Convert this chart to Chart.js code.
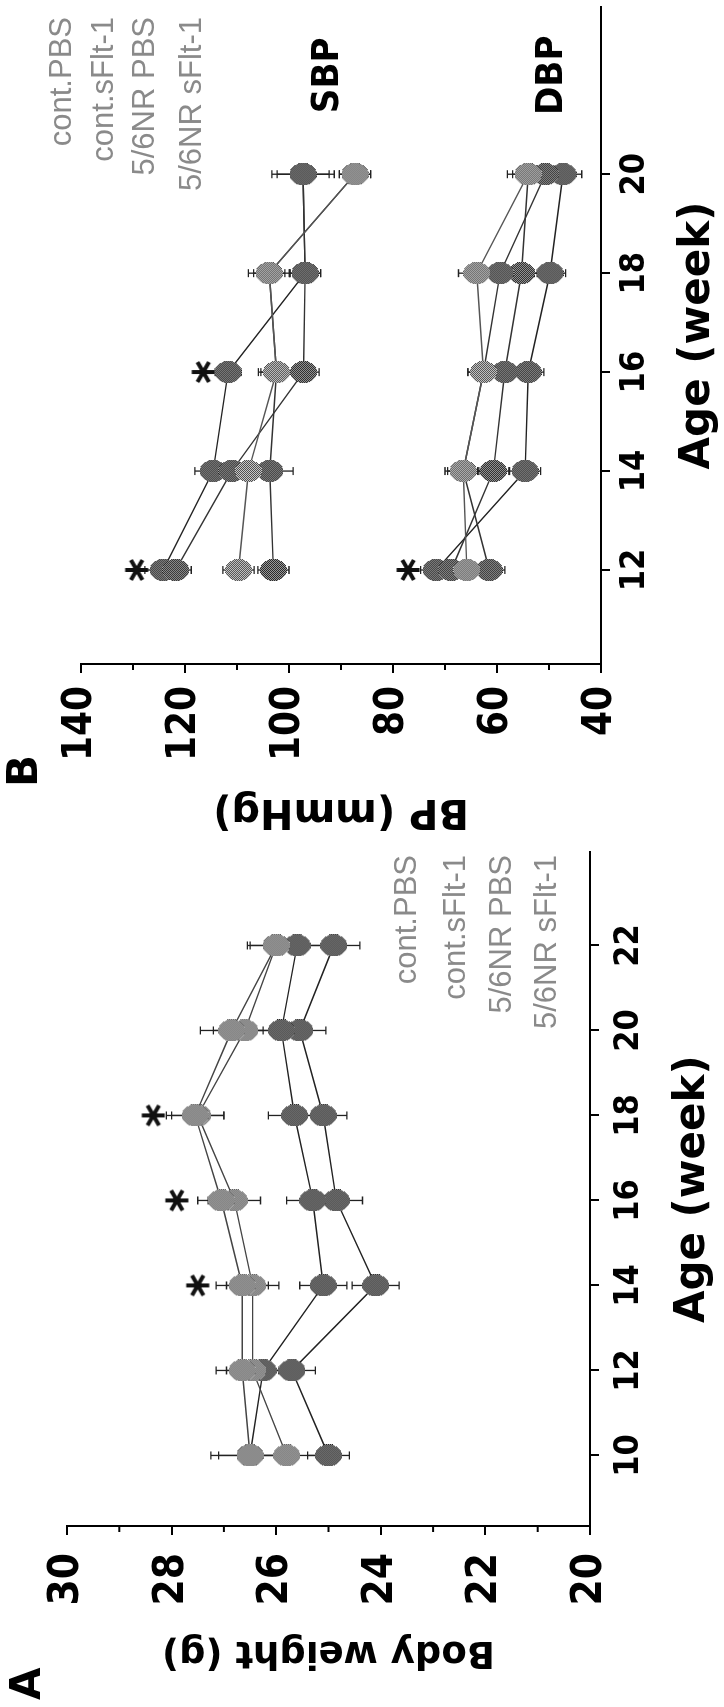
<!DOCTYPE html>
<html><head><meta charset="utf-8">
<script src="https://cdn.jsdelivr.net/npm/chart.js@4.4.1/dist/chart.umd.min.js"></script>
<style>
html,body{margin:0;padding:0;background:#fff;overflow:hidden;width:724px;height:1707px;}
#fig{position:absolute;left:0;top:0;width:1707px;height:724px;transform-origin:0 0;transform:translateY(1707px) rotate(-90deg);background:#fff;}
#wa{position:absolute;left:0;top:0;width:860px;height:724px;}
#wb{position:absolute;left:860px;top:0;width:847px;height:724px;}
canvas{display:block;}
</style></head><body>
<div id="fig"><div id="wa"><canvas id="ca" width="860" height="724"></canvas></div><div id="wb"><canvas id="cb" width="847" height="724"></canvas></div></div>
<script>
// ---------- data ----------
const groupLabels = ['cont.PBS', 'cont.sFlt-1', '5/6NR PBS', '5/6NR sFlt-1'];

// Panel A: body weight (g)
const weeksA = [10, 12, 14, 16, 18, 20, 22];
const bwContPBS   = [26.5, 26.65, 26.65, 27.05, 27.55, 26.85, 26.0];
const bwContSflt1 = [25.8, 26.45, 26.45, 26.8, 27.5, 26.6, 26.0];
const bw56PBS     = [26.5, 26.25, 25.1, 25.3, 25.65, 25.9, 25.6];
const bw56Sflt1   = [25.0, 25.7, 24.1, 24.85, 25.1, 25.55, 24.9];
const bwContPBSErr   = [0.75, 0.5, 0.5, 0.45, 0.55, 0.6, 0.55];
const bwContSflt1Err = [0.6, 0.5, 0.5, 0.5, 0.5, 0.6, 0.5];
const bw56PBSErr     = [0.6, 0.5, 0.45, 0.5, 0.5, 0.5, 0.5];
const bw56Sflt1Err   = [0.4, 0.45, 0.45, 0.5, 0.45, 0.5, 0.5];
const bwStarWeeks  = [14, 16, 18];
const bwStarValues = [27.5, 27.9, 28.35];
const weekTicksA = [10, 12, 14, 16, 18, 20, 22];
const bwTicks = [20, 22, 24, 26, 28, 30];
const bwMinorTicks = [21, 23, 25, 27, 29];

// Panel B: blood pressure (mmHg)
const weeksB = [12, 14, 16, 18, 20];
const sbpContPBS   = [109.7, 107.8, 102.4, 103.8, 87.3];
const sbpContSflt1 = [103.0, 103.7, 102.4, 103.8, 87.3];
const sbp56PBS     = [121.8, 111.0, 97.2, 96.9, 97.3];
const sbp56Sflt1   = [124.2, 114.6, 111.7, 96.9, 97.3];
const dbpContPBS   = [65.8, 66.5, 62.6, 63.9, 54.0];
const dbpContSflt1 = [61.5, 66.5, 62.6, 59.4, 50.7];
const dbp56PBS     = [68.8, 60.7, 58.5, 55.3, 54.0];
const dbp56Sflt1   = [71.7, 54.6, 54.0, 49.8, 47.3];
const sbpContPBSErr   = [3, 3, 3.5, 4, 3];
const sbpContSflt1Err = [3, 4.5, 3, 3, 3];
const sbp56PBSErr     = [3, 3, 3, 3, 6];
const sbp56Sflt1Err   = [3.5, 3.5, 2.5, 3, 5];
const dbpContPBSErr   = [3, 3.5, 3, 3.5, 4];
const dbpContSflt1Err = [3, 3, 3, 3, 3];
const dbp56PBSErr     = [3, 3, 3, 3, 3];
const dbp56Sflt1Err   = [3, 3, 3, 3, 3.6];
const bpStarWeeks  = [12, 16, 12];
const bpStarValues = [129.3, 116.5, 77.1];
const bpLabelText = ['SBP', 'DBP'];
const bpLabelWeek = [22.0, 22.0];
const bpLabelValue = [92.5, 49.4];
const weekTicksB = [12, 14, 16, 18, 20];
const bpTicks = [40, 60, 80, 100, 120, 140];
const bpMinorTicks = [50, 70, 90, 110, 130];

// ---------- styling helpers ----------
const TICKFONT = "'DejaVu Sans Condensed', 'DejaVu Sans', sans-serif";
const TITLEFONT = "'DejaVu Sans', sans-serif";

function makeMarker(light) {
  const w = 22, h = 27, c = document.createElement('canvas');
  c.width = w; c.height = h;
  const x = c.getContext('2d');
  const img = x.createImageData(w, h);
  for (let j = 0; j < h; j++) for (let i = 0; i < w; i++) {
    const dx = (i + 0.5 - w / 2) / (w / 2), dy = (j + 0.5 - h / 2) / (h / 2);
    if (dx * dx + dy * dy <= 1) {
      const on = ((i + j) % 2 === 0);
      const v = light ? (on ? 80 : 200) : (on ? 35 : 160);
      const k = (j * w + i) * 4;
      img.data[k] = img.data[k + 1] = img.data[k + 2] = v; img.data[k + 3] = 255;
    }
  }
  x.putImageData(img, 0, 0);
  return c;
}
function makeStar() {
  const s = 26, c = document.createElement('canvas');
  c.width = s; c.height = s;
  const x = c.getContext('2d');
  x.strokeStyle = '#111'; x.lineWidth = 4;
  const r = 11.5, m = s / 2;
  [90, 30, -30].forEach(a => {
    const t = a * Math.PI / 180;
    x.beginPath(); x.moveTo(m - r * Math.cos(t), m - r * Math.sin(t));
    x.lineTo(m + r * Math.cos(t), m + r * Math.sin(t)); x.stroke();
  });
  return c;
}
const markLight = makeMarker(true), markDark = makeMarker(false), starImg = makeStar();

const pts = (xs, ys) => xs.map((x, i) => ({x: x, y: ys[i]}));
function series(label, xs, ys, errs, light, color) {
  return {
    label: label, data: pts(xs, ys), errors: errs,
    borderColor: color, borderWidth: 1.4, backgroundColor: color,
    pointStyle: light ? markLight : markDark, showLine: true, fill: false, tension: 0
  };
}
function stars(xs, ys) {
  return {label: '*', data: pts(xs, ys), showLine: false, pointStyle: starImg, borderWidth: 0};
}

// ---------- plugins ----------
const errorBars = {
  id: 'errorBars',
  beforeDatasetsDraw(chart) {
    const ctx = chart.ctx, ys = chart.scales.y, xs = chart.scales.x;
    ctx.save(); ctx.strokeStyle = '#222'; ctx.lineWidth = 1.3;
    chart.data.datasets.forEach(ds => {
      if (!ds.errors) return;
      ds.data.forEach((p, i) => {
        const e = ds.errors[i], px = xs.getPixelForValue(p.x);
        const y1 = ys.getPixelForValue(p.y - e), y2 = ys.getPixelForValue(p.y + e);
        ctx.beginPath();
        ctx.moveTo(px, y1); ctx.lineTo(px, y2);
        ctx.moveTo(px - 4, y1); ctx.lineTo(px + 4, y1);
        ctx.moveTo(px - 4, y2); ctx.lineTo(px + 4, y2);
        ctx.stroke();
      });
    });
    ctx.restore();
  }
};
const minorTicks = {
  id: 'minorTicks',
  afterDraw(chart, args, opts) {
    const ys = chart.scales.y, ctx = chart.ctx, x0 = chart.chartArea.left;
    ctx.save(); ctx.strokeStyle = '#000'; ctx.lineWidth = 2;
    (opts.values || []).forEach(v => {
      const y = ys.getPixelForValue(v);
      ctx.beginPath(); ctx.moveTo(x0 - 6, y); ctx.lineTo(x0, y); ctx.stroke();
    });
    ctx.restore();
  }
};
const annotations = {
  id: 'annotations',
  afterDraw(chart, args, o) {
    const ctx = chart.ctx;
    ctx.save();
    ctx.fillStyle = '#000'; ctx.textAlign = 'left'; ctx.textBaseline = 'top';
    ctx.font = "bold 42px " + TITLEFONT;
    ctx.fillText(o.letter, o.letterX, o.letterY);
    ctx.font = "31px 'Liberation Sans', Arial, sans-serif";
    ctx.fillStyle = '#8a8a8a'; ctx.textAlign = 'right'; ctx.textBaseline = 'middle';
    groupLabels.forEach((t, i) => ctx.fillText(t, o.legendRight, o.legendYs[i]));
    if (o.valueLabels) {
      ctx.font = "bold 38px " + TICKFONT; ctx.fillStyle = '#000'; ctx.textAlign = 'center';
      o.valueLabels.text.forEach((t, i) => {
        ctx.fillText(t, chart.scales.x.getPixelForValue(o.valueLabels.x[i]),
                        chart.scales.y.getPixelForValue(o.valueLabels.y[i]));
      });
    }
    ctx.restore();
  }
};

function axisCommon() {
  return {
    grid: {drawOnChartArea: false, drawTicks: true, tickLength: 9, color: '#000', lineWidth: 2},
    border: {display: true, color: '#000', width: 2}
  };
}

function makeChart(id, cfg) {
  return new Chart(document.getElementById(id), {
    type: 'line',
    data: {datasets: cfg.datasets},
    options: {
      responsive: false, animation: false, devicePixelRatio: 1, events: [],
      layout: {padding: cfg.padding},
      plugins: {
        legend: {display: false}, tooltip: {enabled: false},
        minorTicks: {values: cfg.minor},
        annotations: cfg.ann
      },
      scales: {
        x: Object.assign(axisCommon(), {
          type: 'linear', position: 'bottom', min: cfg.xmin, max: cfg.xmax,
          afterBuildTicks: s => { s.ticks = cfg.xticks.map(v => ({value: v})); },
          afterFit: s => { s.height = cfg.xh; },
          ticks: {color: '#000', padding: cfg.xpad, font: {family: TICKFONT, weight: 'bold', size: 34}},
          title: {display: true, text: 'Age (week)', color: '#000', padding: {top: 0, bottom: cfg.xtpad},
                  font: {family: TITLEFONT, weight: 'bold', size: 42, lineHeight: 1}}
        }),
        y: Object.assign(axisCommon(), {
          type: 'linear', position: 'left', min: cfg.ymin, max: cfg.ymax,
          afterBuildTicks: s => { s.ticks = cfg.yticks.map(v => ({value: v})); },
          afterFit: s => { s.width = cfg.yw; },
          ticks: {color: '#000', padding: cfg.ypad, font: {family: TICKFONT, weight: 'bold', size: cfg.yfont}},
          title: {display: true, text: cfg.ytitle, color: '#000', padding: {top: cfg.ytpad, bottom: 0},
                  font: {family: TITLEFONT, weight: 'bold', size: cfg.ytsize, lineHeight: 1}}
        })
      }
    },
    plugins: [errorBars, minorTicks, annotations]
  });
}

makeChart('ca', {
  datasets: [
    series(groupLabels[0], weeksA, bwContPBS, bwContPBSErr, true, '#444'),
    series(groupLabels[1], weeksA, bwContSflt1, bwContSflt1Err, true, '#444'),
    series(groupLabels[2], weeksA, bw56PBS, bw56PBSErr, false, '#222'),
    series(groupLabels[3], weeksA, bw56Sflt1, bw56Sflt1Err, false, '#222'),
    stars(bwStarWeeks, bwStarValues)
  ],
  padding: {top: 67, right: 2, left: 0, bottom: 0},
  xmin: 8.34, xmax: 24.19, ymin: 20, ymax: 30,
  xticks: weekTicksA, yticks: bwTicks, minor: bwMinorTicks,
  xh: 134, yw: 181, ypad: 18, xpad: 10, xtpad: 10, ytpad: 37, yfont: 42, ytsize: 37,
  ytitle: 'Body weight (g)',
  ann: {letter: 'A', letterX: 7, letterY: 8, legendRight: 852, legendYs: [407, 456, 502, 547]}
});

makeChart('cb', {
  datasets: [
    series(groupLabels[0], weeksB, sbpContPBS, sbpContPBSErr, true, '#555'),
    series(groupLabels[1], weeksB, sbpContSflt1, sbpContSflt1Err, false, '#333'),
    series(groupLabels[2], weeksB, sbp56PBS, sbp56PBSErr, false, '#333'),
    series(groupLabels[3], weeksB, sbp56Sflt1, sbp56Sflt1Err, false, '#222'),
    series(groupLabels[0], weeksB, dbpContPBS, dbpContPBSErr, true, '#555'),
    series(groupLabels[1], weeksB, dbpContSflt1, dbpContSflt1Err, false, '#333'),
    series(groupLabels[2], weeksB, dbp56PBS, dbp56PBSErr, false, '#333'),
    series(groupLabels[3], weeksB, dbp56Sflt1, dbp56Sflt1Err, false, '#222'),
    stars(bpStarWeeks, bpStarValues)
  ],
  padding: {top: 81, right: 7, left: 0, bottom: 0},
  xmin: 10.1, xmax: 23.38, ymin: 40, ymax: 140,
  xticks: weekTicksB, yticks: bpTicks, minor: bpMinorTicks,
  xh: 123, yw: 183, ypad: 13, xpad: 5, xtpad: 5, ytpad: 17, yfont: 40, ytsize: 40,
  ytitle: 'BP (mmHg)',
  ann: {letter: 'B', letterX: 60, letterY: 5, legendRight: 830, legendYs: [62, 104, 145, 192],
        valueLabels: {text: bpLabelText, x: bpLabelWeek, y: bpLabelValue}}
});
</script>
</body></html>
